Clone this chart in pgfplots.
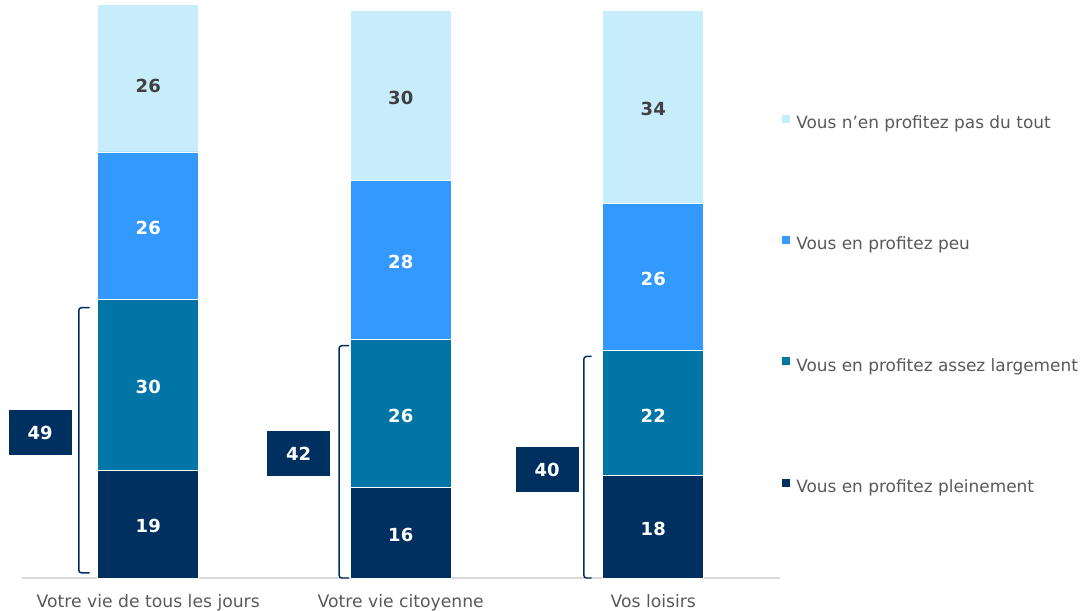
\documentclass[border=0pt]{standalone}
\usepackage{pgfplots}
\pgfplotsset{compat=1.18}
\usepackage{fontspec}
\setmainfont{DejaVu Sans}
\definecolor{c1}{RGB}{0,48,96}
\definecolor{c2}{RGB}{0,117,166}
\definecolor{c3}{RGB}{51,153,255}
\definecolor{c4}{RGB}{199,237,253}
\definecolor{txt}{RGB}{89,89,89}
\definecolor{lbl}{RGB}{64,64,64}
\definecolor{axl}{RGB}{217,217,217}
\begin{document}
\begin{tikzpicture}
\useasboundingbox (0,0) rectangle (812.25pt,458.25pt);
\pgfplotsset{common/.style={
  scale only axis, width=568.125pt, height=426pt,
  xmin=-0.5, xmax=2.5, ymin=0, ymax=100,
  at={(16.5pt,24.75pt)}, anchor=south west, clip=false},
  lgsq/.style={legend image code/.code={\fill[##1, draw=none] (0pt,1.5pt) rectangle (6pt,7.5pt);}}}
\begin{axis}[common, ybar stacked, bar width=0.4,
  axis x line=bottom, axis y line=none,
  x axis line style={draw=axl, line width=1.1pt, -},
  xtick={0,1,2}, xticklabels={Votre vie de tous les jours, Votre vie citoyenne, Vos loisirs},
  major tick length=0pt,
  xticklabel style={font=\fontsize{12.9}{15}\selectfont, text=txt, anchor=base, yshift=-22.5pt},
  legend style={at={(axis description cs:0.998,0.821)}, anchor=north west, draw=none, fill=none,
    font=\fontsize{12.7}{15}\selectfont, text=txt, column sep=4.5pt, row sep=77.5pt,
    nodes={inner sep=0pt, text height=9pt, text depth=3pt}},
  legend cell align=left, reverse legend,
]
\addplot[fill=c1, draw=white, line width=0.5pt, lgsq] coordinates {(0,19) (1,16) (2,18)};
\addlegendentry{Vous en profitez pleinement}
\addplot[fill=c2, draw=white, line width=0.5pt, lgsq] coordinates {(0,30) (1,26) (2,22)};
\addlegendentry{Vous en profitez assez largement}
\addplot[fill=c3, draw=white, line width=0.5pt, lgsq] coordinates {(0,26) (1,28) (2,26)};
\addlegendentry{Vous en profitez peu}
\addplot[fill=c4, draw=white, line width=0.5pt, lgsq] coordinates {(0,26) (1,30) (2,34)};
\addlegendentry{Vous n’en profitez pas du tout}
\end{axis}
\begin{axis}[common, hide axis]
\addplot[only marks, mark=none, nodes near coords, point meta=explicit symbolic,
  nodes near coords style={anchor=center, font=\bfseries\fontsize{13.5}{15}\selectfont, text=white}]
  coordinates {(0,9.2)[19] (1,7.6)[16] (2,8.6)[18] (0,33.6)[30] (1,28.6)[26] (2,28.6)[22] (0,61.6)[26] (1,55.6)[28] (2,52.6)[26]};
\addplot[only marks, mark=none, nodes near coords, point meta=explicit symbolic,
  nodes near coords style={anchor=center, font=\bfseries\fontsize{13.5}{15}\selectfont, text=lbl}]
  coordinates {(0,86.6)[26] (1,84.6)[30] (2,82.6)[34]};
\draw[c1, line width=1.1pt, rounded corners=2pt] (axis cs:-0.232,47.6) -- (axis cs:-0.275,47.6) -- (axis cs:-0.275,0.9) -- (axis cs:-0.232,0.9);
\draw[c1, line width=1.1pt, rounded corners=2pt] (axis cs:0.796,40.9) -- (axis cs:0.756,40.9) -- (axis cs:0.756,0) -- (axis cs:0.796,0);
\draw[c1, line width=1.1pt, rounded corners=2pt] (axis cs:1.756,39.0) -- (axis cs:1.725,39.0) -- (axis cs:1.725,0) -- (axis cs:1.756,0);
\node[fill=c1, text=white, font=\bfseries\fontsize{13.5}{15}\selectfont, minimum width=47.25pt, minimum height=33.75pt, inner sep=0pt] at (axis cs:-0.428,25.6) {49};
\node[fill=c1, text=white, font=\bfseries\fontsize{13.5}{15}\selectfont, minimum width=47.25pt, minimum height=33.75pt, inner sep=0pt] at (axis cs:0.596,21.9) {42};
\node[fill=c1, text=white, font=\bfseries\fontsize{13.5}{15}\selectfont, minimum width=47.25pt, minimum height=33.75pt, inner sep=0pt] at (axis cs:1.58,19.1) {40};
\end{axis}
\end{tikzpicture}
\end{document}
